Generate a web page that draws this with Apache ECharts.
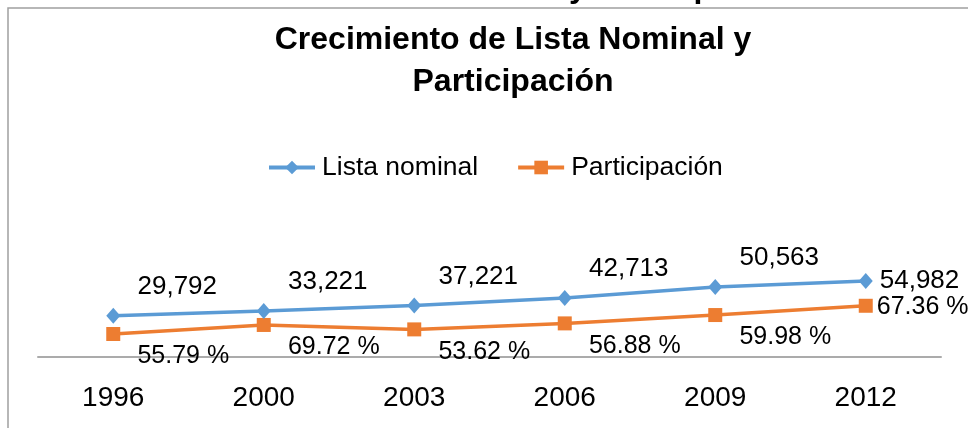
<!DOCTYPE html>
<html>
<head>
<meta charset="utf-8">
<script src="https://cdn.jsdelivr.net/npm/echarts@6/dist/echarts.min.js"></script>
<style>
  html, body { margin: 0; padding: 0; background: #fff; }
  #chart { width: 968px; height: 428px; }
</style>
</head>
<body>
<div id="chart"></div>
<script>
// ---- data ----
const categories = ['1996', '2000', '2003', '2006', '2009', '2012'];
const listaNominal = [29792, 33221, 37221, 42713, 50563, 54982];
// plotted height of the orange line (voters)
const votantes = [16621, 23162, 19958, 24295, 30328, 37036];
// labels shown on the orange line (percent participation)
const participacion = [55.79, 69.72, 53.62, 56.88, 59.98, 67.36];

const FONT = '"Liberation Sans", Arial, sans-serif';
const chart = echarts.init(document.getElementById('chart'), null, { renderer: 'canvas' });

const last = categories.length - 1;

chart.setOption({
  animation: false,
  backgroundColor: '#ffffff',
  textStyle: { fontFamily: FONT },
  graphic: [
    {
      type: 'text', left: 0, top: -27.5, silent: true,
      style: { text: 'Cuadro 7. Histórico de Lista Nominal y Participación 1996-2012',
               font: 'bold 32px ' + FONT, fill: '#000' }
    },
    {
      type: 'rect', silent: true, z: -1,
      shape: { x: 8, y: 8, width: 1000, height: 500 },
      style: { fill: 'none', stroke: '#a0a0a0', lineWidth: 1.5 }
    },
    {
      type: 'text', silent: true, x: 513, y: 19,
      style: { text: 'Crecimiento de Lista Nominal y\nParticipación',
               font: 'bold 32px ' + FONT, lineHeight: 42, align: 'center',
               verticalAlign: 'top', fill: '#000' }
    }
  ],
  legend: {
    left: 262, top: 149,
    itemWidth: 46, itemHeight: 17, itemGap: 38,
    lineStyle: { width: 4 },
    textStyle: { fontSize: 26.5, color: '#000', fontFamily: FONT, padding: [0, 0, 0, 2] },
    data: ['Lista nominal', 'Participación']
  },
  grid: { left: 38, right: 27, top: 191, bottom: 71, containLabel: false },
  xAxis: {
    type: 'category', data: categories, boundaryGap: true,
    axisLine: { show: true, lineStyle: { color: '#ababab', width: 2 } },
    axisTick: { show: false },
    axisLabel: { fontSize: 28, color: '#000', margin: 27, fontFamily: FONT },
    splitLine: { show: false }
  },
  yAxis: {
    type: 'value', min: 0, max: 120000, show: false,
    splitLine: { show: false }
  },
  series: [
    {
      name: 'Lista nominal', type: 'line',
      color: '#5B9BD5',
      symbol: 'diamond', symbolSize: [14, 16],
      lineStyle: { width: 3.5, color: '#5B9BD5' },
      itemStyle: { color: '#5B9BD5' },
      label: {
        show: true, position: 'top', offset: [64, -3],
        fontSize: 26, color: '#000', fontFamily: FONT,
        formatter: p => p.value.toLocaleString('en-US')
      },
      data: listaNominal.map((v, i) => i === last
        ? { value: v, label: { position: 'right', offset: [0, 0], distance: 7 } }
        : v),
      z: 3
    },
    {
      name: 'Participación', type: 'line',
      color: '#ED7D31',
      symbol: 'rect', symbolSize: 14,
      lineStyle: { width: 3.5, color: '#ED7D31' },
      itemStyle: { color: '#ED7D31' },
      label: {
        show: true, position: 'bottom', offset: [70, -2],
        fontSize: 25, color: '#000', fontFamily: FONT,
        formatter: p => participacion[p.dataIndex].toFixed(2) + ' %'
      },
      data: votantes.map((v, i) => i === last
        ? { value: v, label: { position: 'right', offset: [0, 1], distance: 4 } }
        : v),
      z: 2
    }
  ]
});
</script>
</body>
</html>
